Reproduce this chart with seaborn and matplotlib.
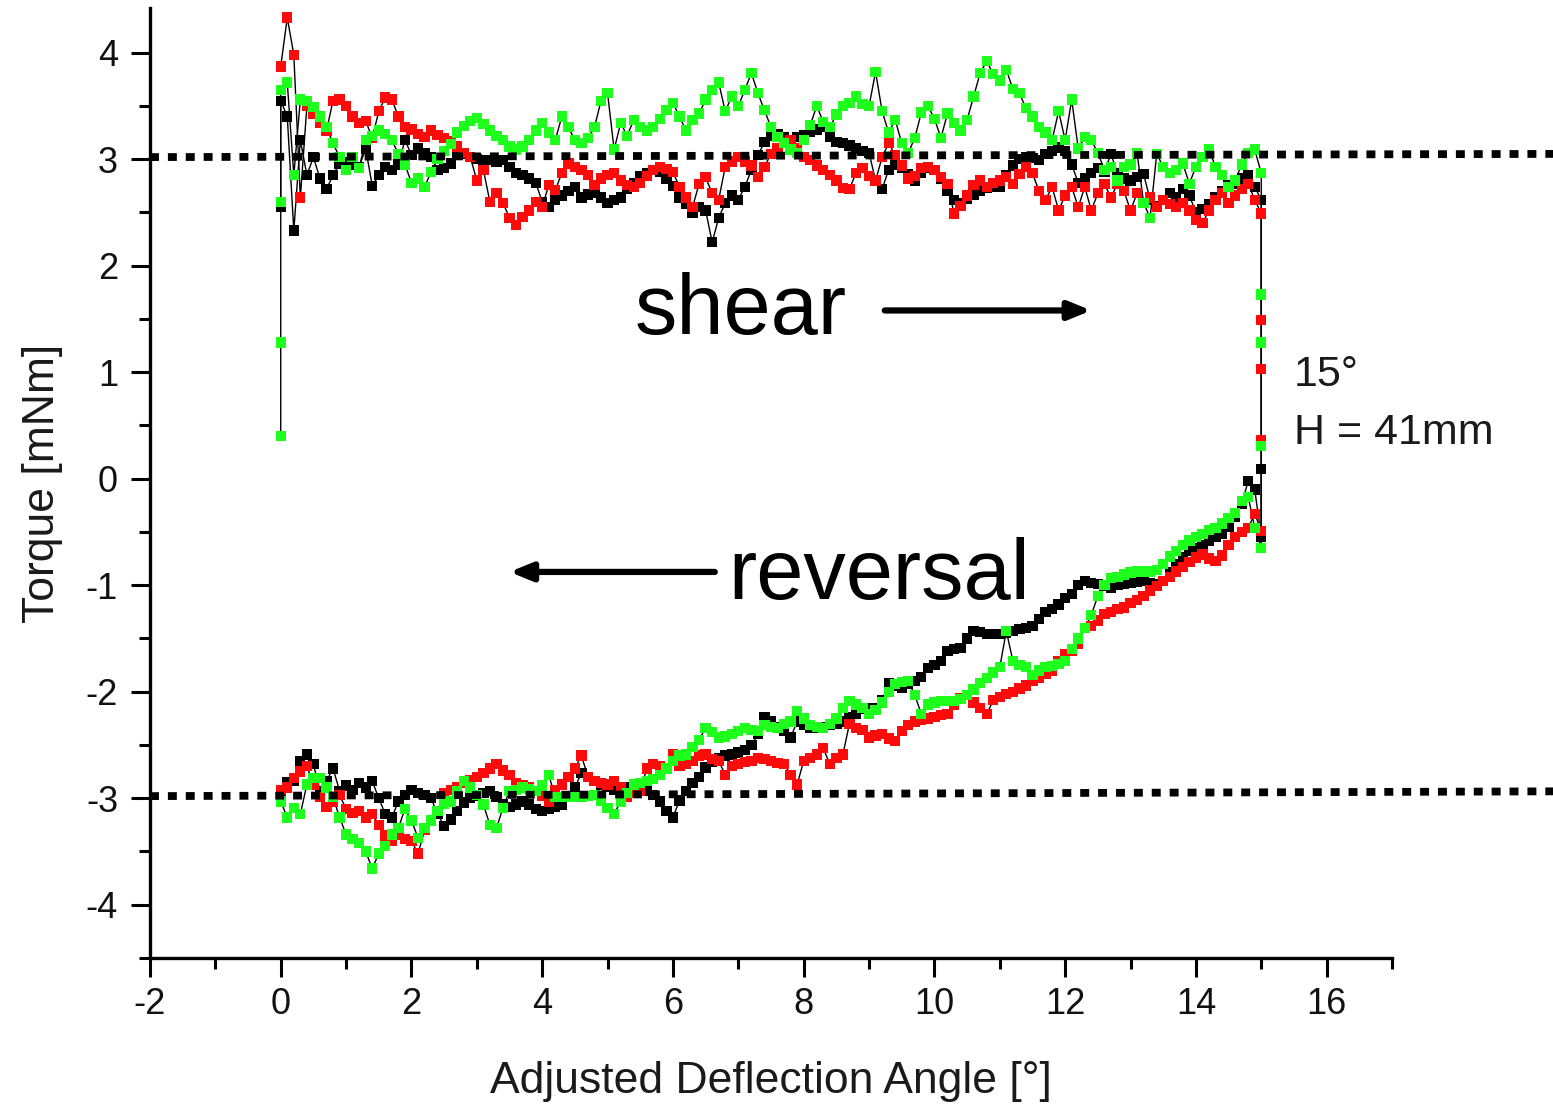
import numpy as np
import pandas as pd
import matplotlib
matplotlib.use("Agg")
import matplotlib.pyplot as plt
import seaborn as sns

# ---------------- data ----------------
ANGLE_STEP = 0.1          # sampling step of the deflection angle [deg]
ANGLE_MAX = 15.0

# points recorded at 0 deg before the shear run starts
black_start = [2.55]
red_start = []
green_start = [0.40, 1.28, 2.60]

# shear run, angle 0.0 -> 15.0 (one row per degree)
black_shear = [
    3.55, 3.40, 2.33, 3.18, 2.85, 3.02, 2.82, 2.72, 2.85, 2.96,
    2.97, 2.95, 2.93, 3.10, 2.75, 2.85, 2.93, 2.90, 2.95, 3.18,
    3.04, 3.10, 3.06, 3.02, 2.90, 2.92, 2.96, 3.04, 3.05, 3.02,
    3.00, 2.99, 2.99, 2.98, 2.99, 2.93, 2.87, 2.85, 2.82, 2.78,
    2.60, 2.55, 2.62, 2.66, 2.70, 2.74, 2.64, 2.67, 2.68, 2.64,
    2.59, 2.62, 2.64, 2.72, 2.78, 2.84, 2.87, 2.90, 2.88, 2.82,
    2.75, 2.64, 2.58, 2.50, 2.55, 2.52, 2.22, 2.45, 2.59, 2.66,
    2.62, 2.74, 2.90, 3.04, 3.16, 3.22, 3.24, 3.21, 3.18, 3.21,
    3.23, 3.26, 3.28, 3.30, 3.21, 3.16, 3.15, 3.13, 3.10, 3.08,
    3.06, 2.80, 2.72, 2.90, 2.95, 2.92, 2.86, 2.80, 2.87, 2.92,
    2.90, 2.82, 2.70, 2.62, 2.59, 2.63, 2.67, 2.70, 2.73, 2.74,
    2.74, 2.85, 2.94, 3.00, 3.02, 3.01, 2.99, 3.05, 3.08, 3.11,
    3.08, 2.95, 2.78, 2.82, 2.87, 2.92, 2.88, 3.05, 2.87, 2.82,
    2.80, 2.83, 2.86, 2.62, 2.56, 2.62, 2.68, 2.64, 2.72, 2.66,
    2.50, 2.53, 2.58, 2.64, 2.70, 2.76, 2.77, 2.82, 2.85, 2.74,
    2.62]
red_shear = [
    3.87, 4.33, 3.98, 2.64, 3.50, 3.43, 3.34, 3.27, 3.55, 3.56,
    3.50, 3.40, 3.34, 3.36, 3.20, 3.45, 3.58, 3.56, 3.40, 3.30,
    3.28, 3.24, 3.21, 3.27, 3.23, 3.20, 3.17, 3.12, 3.06, 3.02,
    2.80, 2.90, 2.60, 2.68, 2.59, 2.45, 2.38, 2.46, 2.52, 2.60,
    2.55, 2.76, 2.71, 2.87, 2.96, 2.93, 2.90, 2.85, 2.76, 2.82,
    2.85, 2.87, 2.80, 2.76, 2.74, 2.78, 2.84, 2.90, 2.93, 2.91,
    2.88, 2.74, 2.64, 2.55, 2.77, 2.83, 2.68, 2.62, 2.93, 2.98,
    3.02, 2.98, 2.94, 2.83, 2.93, 3.05, 3.10, 3.16, 3.18, 3.10,
    3.02, 2.99, 2.94, 2.90, 2.85, 2.80, 2.73, 2.72, 2.87, 2.92,
    2.84, 2.80, 3.02, 3.15, 3.04, 2.94, 2.82, 2.84, 2.92, 2.93,
    2.90, 2.83, 2.77, 2.49, 2.56, 2.66, 2.76, 2.80, 2.74, 2.78,
    2.80, 2.83, 2.77, 2.86, 2.93, 2.87, 2.70, 2.62, 2.74, 2.52,
    2.66, 2.74, 2.55, 2.74, 2.52, 2.68, 2.77, 2.64, 2.77, 2.70,
    2.52, 2.68, 2.59, 2.64, 2.55, 2.62, 2.58, 2.55, 2.59, 2.52,
    2.43, 2.40, 2.52, 2.62, 2.68, 2.59, 2.66, 2.72, 2.77, 2.62,
    2.49]
green_shear = [
    3.65, 3.72, 2.85, 3.56, 3.55, 3.49, 3.40, 3.30, 3.15, 3.02,
    2.90, 3.02, 2.92, 3.18, 3.22, 3.27, 3.24, 3.18, 3.05, 2.95,
    2.78, 2.82, 2.74, 2.88, 3.00, 3.08, 3.14, 3.25, 3.31, 3.36,
    3.39, 3.33, 3.27, 3.22, 3.18, 3.12, 3.09, 3.12, 3.18, 3.27,
    3.34, 3.25, 3.18, 3.40, 3.30, 3.18, 3.15, 3.20, 3.30, 3.55,
    3.62, 3.09, 3.34, 3.22, 3.37, 3.30, 3.27, 3.30, 3.38, 3.46,
    3.53, 3.40, 3.27, 3.37, 3.43, 3.56, 3.65, 3.72, 3.45, 3.59,
    3.50, 3.65, 3.81, 3.62, 3.46, 3.30, 3.21, 3.15, 3.09, 3.06,
    3.18, 3.32, 3.50, 3.35, 3.30, 3.42, 3.50, 3.53, 3.59, 3.52,
    3.50, 3.82, 3.45, 3.25, 3.37, 3.15, 3.06, 3.20, 3.44, 3.50,
    3.38, 3.20, 3.43, 3.34, 3.27, 3.37, 3.59, 3.81, 3.92, 3.80,
    3.74, 3.84, 3.66, 3.62, 3.48, 3.40, 3.30, 3.25, 3.18, 3.45,
    3.18, 3.56, 3.10, 3.21, 3.18, 3.06, 2.90, 2.93, 2.80, 2.93,
    2.95, 3.06, 2.59, 2.45, 3.05, 2.93, 2.87, 2.90, 2.96, 2.77,
    2.93, 3.02, 3.09, 2.93, 2.85, 2.74, 2.80, 2.95, 3.06, 3.09,
    2.87]

# points recorded at 15 deg while the direction is reversed
black_turn = [0.09]
red_turn = [1.49, 1.03, 0.36]
green_turn = [1.73, 1.28, 0.31]

# reversal run, listed for angle 0.0 -> 15.0 (measured from 15 back to 0)
black_rev = [
    -2.93, -2.85, -2.84, -2.65, -2.59, -2.68, -2.93, -2.84, -2.72, -2.93,
    -2.88, -2.92, -2.86, -2.90, -2.84, -3.00, -3.15, -3.18, -3.03, -2.97,
    -2.92, -2.95, -2.97, -3.00, -3.15, -3.26, -3.20, -3.12, -3.04, -3.00,
    -2.98, -2.95, -2.93, -2.99, -3.06, -3.08, -3.06, -3.03, -3.06, -3.10,
    -3.12, -3.10, -3.08, -3.06, -2.99, -2.90, -2.76, -2.80, -2.84, -2.87,
    -2.89, -2.92, -2.93, -2.90, -2.90, -2.91, -2.93, -2.97, -3.03, -3.12,
    -3.18, -3.02, -2.93, -2.86, -2.80, -2.71, -2.66, -2.62, -2.60, -2.59,
    -2.57, -2.55, -2.50, -2.40, -2.24, -2.28, -2.33, -2.37, -2.43, -2.28,
    -2.31, -2.34, -2.34, -2.33, -2.31, -2.30, -2.28, -2.24, -2.21, -2.16,
    -2.15, -2.15, -2.08, -1.92, -1.94, -1.96, -1.93, -1.90, -1.86, -1.78,
    -1.75, -1.71, -1.62, -1.60, -1.59, -1.50, -1.43, -1.44, -1.46, -1.46,
    -1.46, -1.45, -1.43, -1.41, -1.40, -1.38, -1.32, -1.25, -1.22, -1.18,
    -1.12, -1.08, -1.00, -0.96, -0.98, -0.99, -1.01, -1.02, -1.00, -0.99,
    -0.98, -0.97, -0.96, -0.98, -0.99, -0.96, -0.88, -0.80, -0.74, -0.68,
    -0.65, -0.62, -0.58, -0.55, -0.52, -0.45, -0.36, -0.24, -0.02, -0.10,
    -0.55]
red_rev = [
    -2.92, -2.90, -2.81, -2.75, -2.70, -2.87, -2.99, -3.08, -3.03, -2.97,
    -3.10, -3.14, -3.12, -3.18, -3.15, -3.25, -3.35, -3.40, -3.34, -3.38,
    -3.40, -3.52, -3.30, -3.21, -3.12, -2.95, -2.92, -2.90, -2.86, -2.83,
    -2.80, -2.76, -2.72, -2.68, -2.74, -2.78, -2.86, -2.88, -2.90, -2.93,
    -2.98, -3.03, -2.92, -2.87, -2.80, -2.72, -2.60, -2.80, -2.84, -2.86,
    -2.87, -2.84, -2.90, -2.99, -2.95, -2.93, -2.72, -2.68, -2.70, -2.72,
    -2.59, -2.70, -2.68, -2.65, -2.60, -2.59, -2.63, -2.65, -2.78, -2.70,
    -2.68, -2.66, -2.65, -2.62, -2.63, -2.65, -2.67, -2.68, -2.78, -2.87,
    -2.65, -2.62, -2.59, -2.53, -2.68, -2.62, -2.59, -2.30, -2.34, -2.36,
    -2.43, -2.41, -2.40, -2.44, -2.46, -2.37, -2.31, -2.28, -2.26, -2.25,
    -2.24, -2.22, -2.21, -2.12, -2.06, -2.03, -2.10, -2.15, -2.21, -2.08,
    -2.05, -2.02, -2.00, -1.97, -1.94, -1.90, -1.87, -1.83, -1.80, -1.71,
    -1.65, -1.62, -1.55, -1.40, -1.38, -1.33, -1.27, -1.25, -1.22, -1.21,
    -1.17, -1.14, -1.10, -1.05, -1.01, -0.96, -0.92, -0.87, -0.83, -0.78,
    -0.74, -0.71, -0.75, -0.77, -0.72, -0.62, -0.55, -0.50, -0.46, -0.33,
    -0.49]
green_rev = [
    -3.03, -3.18, -3.09, -3.15, -2.87, -2.81, -2.81, -2.90, -2.99, -3.18,
    -3.34, -3.38, -3.42, -3.50, -3.66, -3.52, -3.45, -3.34, -3.28, -3.10,
    -3.21, -3.37, -3.28, -3.21, -3.12, -3.05, -3.03, -2.93, -2.84, -2.90,
    -2.97, -3.06, -3.25, -3.28, -3.09, -2.93, -2.92, -2.90, -2.91, -2.93,
    -2.88, -2.78, -2.99, -2.99, -2.99, -2.99, -2.99, -2.98, -2.97, -3.02,
    -3.09, -3.15, -3.03, -2.95, -2.87, -2.86, -2.84, -2.82, -2.78, -2.72,
    -2.65, -2.60, -2.59, -2.52, -2.45, -2.34, -2.38, -2.43, -2.42, -2.40,
    -2.37, -2.34, -2.36, -2.37, -2.31, -2.33, -2.34, -2.30, -2.28, -2.18,
    -2.25, -2.31, -2.33, -2.34, -2.30, -2.25, -2.15, -2.09, -2.12, -2.15,
    -2.21, -2.17, -2.10, -2.00, -1.93, -1.91, -1.90, -2.03, -2.21, -2.12,
    -2.10, -2.09, -2.09, -2.09, -2.07, -2.03, -1.98, -1.92, -1.87, -1.82,
    -1.77, -1.43, -1.71, -1.75, -1.77, -1.84, -1.80, -1.77, -1.76, -1.74,
    -1.71, -1.60, -1.50, -1.40, -1.28, -1.10, -1.00, -0.93, -0.92, -0.90,
    -0.88, -0.87, -0.87, -0.87, -0.86, -0.80, -0.73, -0.68, -0.62, -0.58,
    -0.55, -0.52, -0.48, -0.46, -0.42, -0.37, -0.32, -0.21, -0.17, -0.46,
    -0.65]

runs = ["black", "red", "green"]
run_colors = {"black": "#000000", "red": "#ff0a0a", "green": "#1eff1e"}
series = {
    "black": (black_start, black_shear, black_turn, black_rev),
    "red": (red_start, red_shear, red_turn, red_rev),
    "green": (green_start, green_shear, green_turn, green_rev),
}

# reference (nominal) torque levels, slightly tilted as in the original
ref_x = [-2.0, 19.5]
ref_upper = [3.02, 3.05]
ref_lower = [-2.98, -2.935]

# ---------------- build long table ----------------
grid = np.round(np.arange(len(black_shear)) * ANGLE_STEP, 2)
rows = []
for run in runs:
    start, shear, turn, rev = series[run]
    xs = [0.0] * len(start) + list(grid) + [ANGLE_MAX] * len(turn) + list(grid[::-1])
    ys = list(start) + list(shear) + list(turn) + list(rev[::-1])
    for i, (x, y) in enumerate(zip(xs, ys)):
        rows.append({"run": run, "angle": x, "torque": y, "order": i})
df = pd.DataFrame(rows)

# ---------------- plot ----------------
sns.set_theme(style="ticks")
plt.rcParams["font.family"] = ["Liberation Sans", "DejaVu Sans"]
plt.rcParams["axes.unicode_minus"] = False

fig = plt.figure(figsize=(15.53, 11.04), dpi=100)
ax = fig.add_axes([150 / 1553, 1 - 958 / 1104, (1392 - 150) / 1553, (958 - 8) / 1104])

sns.lineplot(data=df, x="angle", y="torque", units="run", estimator=None,
             sort=False, color="black", linewidth=1.0, ax=ax, zorder=2)
sns.scatterplot(data=df, x="angle", y="torque", hue="run", palette=run_colors,
                hue_order=runs, marker="s", s=55, linewidth=0, legend=False,
                ax=ax, zorder=3)

for ys in (ref_upper, ref_lower):
    ax.plot(ref_x, ys, color="black", linewidth=5.6, linestyle=(0, (1.15, 1.15)),
            dash_capstyle="butt", clip_on=False, zorder=4)

ax.set_xlim(-2, 17)
ax.set_ylim(-4.5, 4.42)
ax.set_xticks(np.arange(-2, 17, 2))
ax.set_xticks(np.arange(-2, 18, 1), minor=True)
ax.set_yticks(np.arange(-4, 5, 1))
ax.set_yticks(np.arange(-4.5, 4.5, 0.5), minor=True)

sns.despine(ax=ax)
for side in ("left", "bottom"):
    ax.spines[side].set_linewidth(2.4)
    ax.spines[side].set_color("black")
ax.tick_params(axis="both", which="major", direction="out", length=14, width=2.2,
               labelsize=26, color="black", labelcolor="#111111")
ax.tick_params(axis="both", which="minor", direction="out", length=8, width=2.2,
               color="black")
ax.tick_params(axis="x", which="major", pad=7)
ax.tick_params(axis="y", which="major", pad=9)

ax.set_xlabel("Adjusted Deflection Angle [°]", fontsize=32, color="#1a1a1a", labelpad=28)
ax.set_ylabel("Torque [mNm]", fontsize=32, color="#1a1a1a", labelpad=16)

ax.text(7.03, 1.36, "shear", fontsize=61, ha="center", va="baseline", color="black")
ax.text(9.16, -1.13, "reversal", fontsize=61, ha="center", va="baseline", color="black")
ax.annotate("", xy=(12.4, 1.58), xytext=(9.24, 1.58),
            arrowprops=dict(arrowstyle="-|>,head_length=1.1,head_width=0.45",
                            lw=4.5, color="black", shrinkA=0, shrinkB=0))
ax.annotate("", xy=(3.5, -0.875), xytext=(6.64, -0.875),
            arrowprops=dict(arrowstyle="-|>,head_length=1.1,head_width=0.45",
                            lw=4.5, color="black", shrinkA=0, shrinkB=0))
ax.text(15.5, 0.97, "15°", fontsize=31, ha="left", va="center", color="#1a1a1a")
ax.text(15.5, 0.43, "H = 41mm", fontsize=31, ha="left", va="center", color="#1a1a1a")

fig.savefig("out.png", dpi=100)
